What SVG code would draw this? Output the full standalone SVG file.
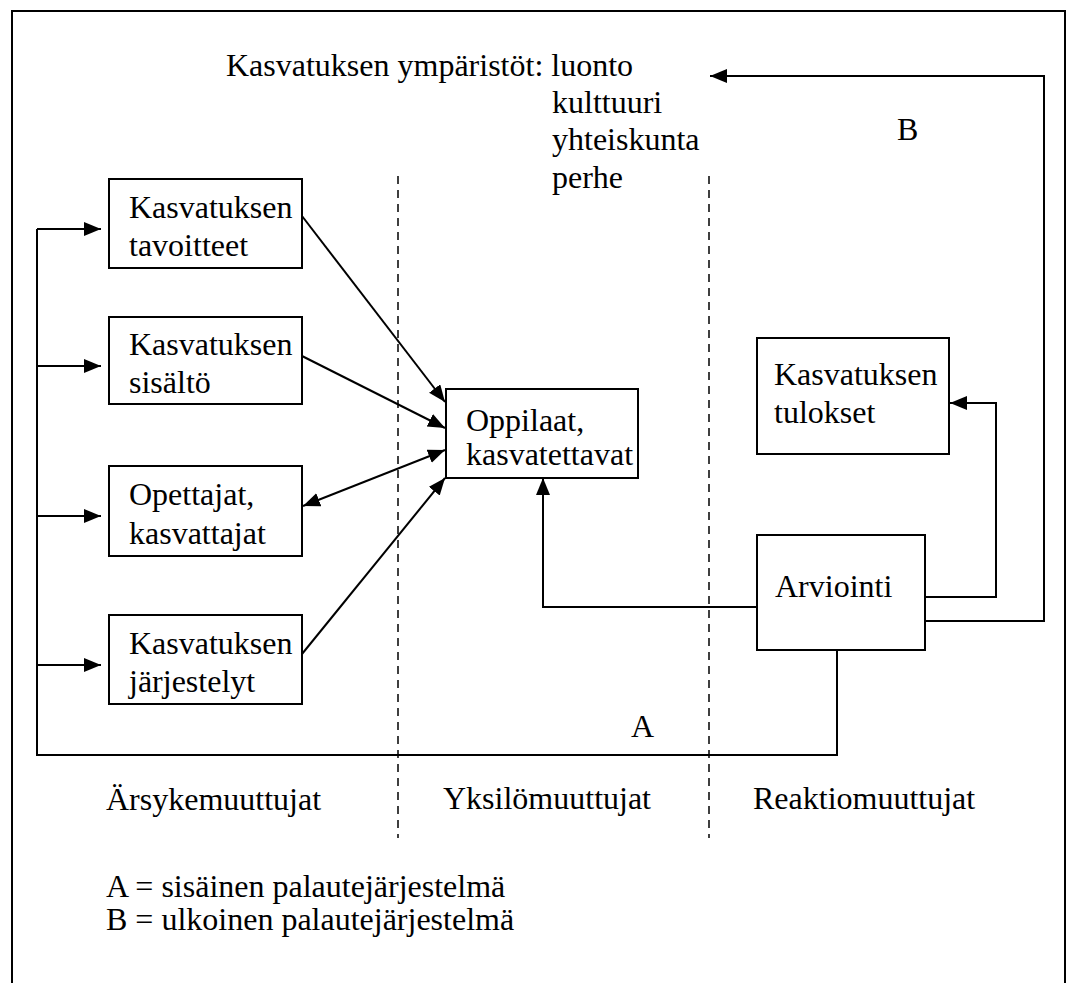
<svg xmlns="http://www.w3.org/2000/svg" width="1068" height="983" viewBox="0 0 1068 983">
<style>
  text { font-family: 'Liberation Serif', 'Times New Roman', Times, 'DejaVu Serif', serif; font-size: 32px; fill: #000; }
  .box { fill: #fff; stroke: #000; stroke-width: 2; }
  .ln { fill: none; stroke: #000; stroke-width: 2; }
  .dash { fill: none; stroke: #000; stroke-width: 1.5; stroke-dasharray: 8 6; }
  .frame { fill: none; stroke: #000; stroke-width: 2; }
</style>
<defs>
  <marker id="ah" markerUnits="userSpaceOnUse" markerWidth="18" markerHeight="16" refX="17" refY="7" orient="auto">
    <path d="M0,0 L17,7 L0,14 Z" fill="#000"/>
  </marker>
  <marker id="ahs" markerUnits="userSpaceOnUse" markerWidth="18" markerHeight="16" refX="17" refY="7" orient="auto-start-reverse">
    <path d="M0,0 L17,7 L0,14 Z" fill="#000"/>
  </marker>
</defs>
<rect width="1068" height="983" fill="#fff"/>
<path class="frame" d="M12,990 L12,11 L1065,11 L1065,990"/>

<g id="environments">
  <text x="226" y="76">Kasvatuksen ympäristöt: luonto</text>
  <text x="552" y="113">kulttuuri</text>
  <text x="552" y="150">yhteiskunta</text>
  <text x="552" y="188">perhe</text>
</g>

<g id="dividers">
  <line class="dash" x1="398" y1="176" x2="398" y2="838"/>
  <line class="dash" x1="709" y1="176" x2="709" y2="838"/>
</g>

<g id="connectors">
  <!-- feedback A -->
  <polyline class="ln" points="837,650 837,755 37,755 37,229"/>
  <line class="ln" x1="37" y1="229" x2="101" y2="229" marker-end="url(#ah)"/>
  <line class="ln" x1="37" y1="366" x2="101" y2="366" marker-end="url(#ah)"/>
  <line class="ln" x1="37" y1="516" x2="101" y2="516" marker-end="url(#ah)"/>
  <line class="ln" x1="37" y1="665" x2="101" y2="665" marker-end="url(#ah)"/>
  <!-- to Oppilaat -->
  <line class="ln" x1="302" y1="216" x2="445" y2="402" marker-end="url(#ah)"/>
  <line class="ln" x1="302" y1="356" x2="445" y2="428" marker-end="url(#ah)"/>
  <line class="ln" x1="303" y1="506" x2="445" y2="450" marker-start="url(#ahs)" marker-end="url(#ah)"/>
  <line class="ln" x1="302" y1="654" x2="445" y2="478" marker-end="url(#ah)"/>
  <!-- Arviointi to Oppilaat -->
  <polyline class="ln" points="757,607 543,607 543,478" marker-end="url(#ah)"/>
  <!-- Arviointi to tulokset -->
  <polyline class="ln" points="925,597 996,597 996,403 950,403" marker-end="url(#ah)"/>
  <!-- feedback B -->
  <polyline class="ln" points="925,621 1044,621 1044,76 710,76" marker-end="url(#ah)"/>
</g>

<g id="labelA"><text x="631" y="737">A</text></g>
<g id="labelB"><text x="897" y="140">B</text></g>

<g id="tavoitteet">
  <rect class="box" x="109" y="179" width="193" height="89"/>
  <text x="129" y="218">Kasvatuksen</text>
  <text x="129" y="256">tavoitteet</text>
</g>
<g id="sisalto">
  <rect class="box" x="109" y="317" width="193" height="87"/>
  <text x="129" y="355">Kasvatuksen</text>
  <text x="129" y="393">sisältö</text>
</g>
<g id="opettajat">
  <rect class="box" x="109" y="466" width="193" height="90"/>
  <text x="129" y="505">Opettajat,</text>
  <text x="129" y="544">kasvattajat</text>
</g>
<g id="jarjestelyt">
  <rect class="box" x="109" y="615" width="193" height="89"/>
  <text x="129" y="654">Kasvatuksen</text>
  <text x="129" y="692">järjestelyt</text>
</g>
<g id="oppilaat">
  <rect class="box" x="446" y="389" width="192" height="89"/>
  <text x="466" y="431">Oppilaat,</text>
  <text x="466" y="465">kasvatettavat</text>
</g>
<g id="tulokset">
  <rect class="box" x="757" y="338" width="192" height="116"/>
  <text x="774" y="385">Kasvatuksen</text>
  <text x="774" y="423">tulokset</text>
</g>
<g id="arviointi">
  <rect class="box" x="757" y="535" width="168" height="115"/>
  <text x="775" y="597">Arviointi</text>
</g>

<g id="columns">
  <text x="106" y="810">Ärsykemuuttujat</text>
  <text x="443" y="809">Yksilömuuttujat</text>
  <text x="753" y="809">Reaktiomuuttujat</text>
</g>
<g id="legend">
  <text x="106" y="897">A = sisäinen palautejärjestelmä</text>
  <text x="106" y="930">B = ulkoinen palautejärjestelmä</text>
</g>
</svg>
